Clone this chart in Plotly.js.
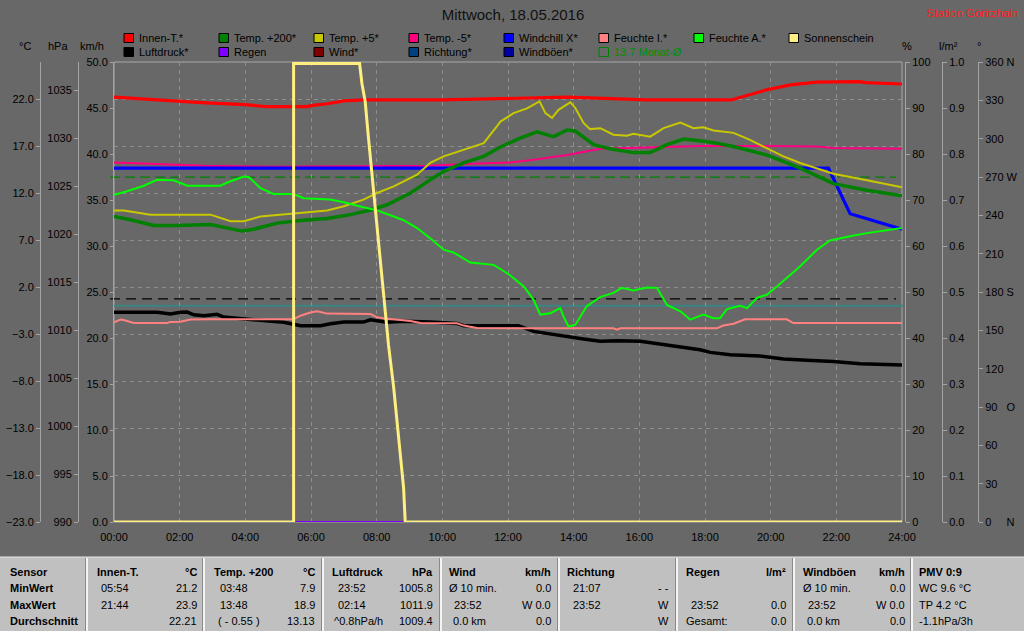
<!DOCTYPE html>
<html><head><meta charset="utf-8">
<script src="https://cdn.plot.ly/plotly-3.0.1.min.js"></script>
<style>html,body{margin:0;padding:0;background:#686868;} #chart{width:1024px;height:631px;}</style>
</head><body><div id="chart"></div>
<script>
// ---------------- DATA ----------------
const hourTicks = [0,2,4,6,8,10,12,14,16,18,20,22,24];
const hourLabels = ["00:00","02:00","04:00","06:00","08:00","10:00","12:00","14:00","16:00","18:00","20:00","22:00","24:00"];

const innenT_h = [0,1.1,1.8,2.3,2.8,3.5,4.0,4.6,5.5,5.9,6.0,6.5,7.0,7.6,10.0,11.1,12.0,13.8,15.6,16.2,18.8,19.3,19.9,20.6,21.4,22.7,22.9,24];
const innenT_v = [22.2,22.0,21.8,21.7,21.6,21.5,21.4,21.2,21.2,21.2,21.3,21.5,21.8,21.9,21.9,22.0,22.0,22.2,22.0,21.9,21.9,22.4,23.0,23.5,23.8,23.85,23.75,23.6];

const temp200_h = [0,0.5,1.21,1.92,2.94,3.45,3.9,4.26,4.97,5.58,6.49,7.2,7.81,8.32,9.03,9.63,10.04,10.65,11.26,11.77,12.37,12.88,13.39,13.8,14.05,14.61,15.11,15.82,16.33,16.84,17.35,17.85,18.36,18.87,19.88,20.9,21.91,22.93,24];
const temp200_v = [9.5,9.15,8.55,8.55,8.65,8.25,7.95,8.15,8.8,9.05,9.3,9.7,10.2,10.75,12.0,13.4,14.3,15.2,15.9,16.9,17.85,18.5,18.0,18.7,18.6,17.15,16.7,16.3,16.3,17.15,17.75,17.55,17.3,16.95,16.05,14.65,13.0,12.3,11.7];

const temp5_h = [0,0.3,1.11,1.92,2.94,3.55,3.95,4.46,5.58,6.49,7.0,7.6,8.01,8.52,9.23,9.63,10.04,10.85,11.26,11.66,11.77,12.17,12.58,12.96,13.14,13.34,13.54,13.69,13.9,14.05,14.3,14.5,14.81,15.21,15.62,15.82,16.03,16.33,16.74,17.25,17.65,17.95,18.26,18.87,19.37,19.88,20.39,20.9,21.41,21.91,22.93,24];
const temp5_v = [10.15,10.15,9.7,9.7,9.7,9.0,9.0,9.5,9.9,10.15,10.6,11.3,12.0,12.7,13.95,15.2,15.9,16.8,17.3,19.1,19.6,20.5,21.0,21.75,20.5,20.0,20.85,21.2,21.65,21.05,19.45,18.8,18.9,18.2,18.1,18.3,18.15,18.0,18.9,19.5,18.9,19.0,18.65,18.4,17.65,16.8,15.9,15.2,14.65,14.05,13.35,12.6];

const tempM5_h = [0,1.21,2.74,4.77,9.63,10.65,12.07,12.78,13.8,14.81,15.82,16.84,17.85,19.88,21.41,21.91,24];
const tempM5_v = [15.25,15.1,14.9,14.8,14.9,15.1,15.25,15.55,16.05,16.7,16.8,16.95,17.0,17.0,16.95,16.8,16.7];

const windchill_h = [0,21.76,22.42,24];
const windchill_v = [14.65,14.65,9.8,8.15];

const feuchteA_h = [0,0.4,0.91,1.31,1.82,2.23,3.24,3.45,3.95,4.1,4.46,4.86,5.47,5.78,6.59,7.0,7.5,8.01,8.52,8.82,9.23,9.63,10.04,10.34,10.85,11.56,11.77,12.07,12.48,12.78,12.98,13.29,13.59,13.69,13.84,14.05,14.4,14.81,15.21,15.47,15.82,16.23,16.54,16.84,17.25,17.55,17.95,18.26,18.46,18.67,19.07,19.28,19.58,19.88,20.19,20.9,21.41,21.81,22.42,22.93,24];
const feuchteA_v = [71.15,71.9,73.1,74.4,74.3,73.1,73.1,73.8,75.1,75.0,72.6,71.3,71.3,70.4,70.1,69.5,68.6,67.75,66.4,65.6,63.9,61.7,59.2,58.6,56.4,55.9,55.0,53.6,51.2,48.3,45.1,45.4,46.5,44.7,42.5,42.9,46.9,48.9,49.8,50.9,50.35,51.0,50.9,47.2,45.8,44.0,45.1,44.3,44.3,46.3,47.0,46.5,48.7,49.4,51.2,55.6,59.2,61.2,62.1,62.8,63.9];

const feuchteI_h = [0,0.2,0.35,0.6,1.62,1.72,2.02,2.33,2.94,4.16,5.47,5.68,5.98,6.19,6.49,7.81,8.01,8.32,8.72,9.03,9.33,10.45,10.65,11.06,12.07,15.21,15.32,15.42,18.36,18.56,18.87,19.07,19.22,20.49,20.69,24];
const feuchteI_v = [43.4,44.0,43.8,43.25,43.25,43.5,43.55,44.0,44.1,44.1,44.1,44.85,45.55,45.8,45.3,45.2,44.5,44.2,44.0,43.7,43.25,43.2,42.7,42.2,42.1,42.1,41.8,42.1,42.1,42.7,43.1,43.6,44.05,44.05,43.25,43.25];

const luftdruck_h = [0,1.31,1.72,2.02,2.23,2.43,2.74,3.14,3.34,4.16,5.17,5.68,6.29,6.59,7.0,7.6,7.81,8.32,8.82,9.63,10.45,10.65,12.32,12.78,13.29,13.8,14.3,14.81,15.32,16.03,16.84,17.35,17.85,18.16,18.77,19.68,20.39,21.1,21.91,22.73,24];
const luftdruck_v = [1011.84,1011.84,1011.66,1011.84,1011.87,1011.59,1011.49,1011.63,1011.35,1011.14,1010.8,1010.45,1010.45,1010.66,1010.83,1010.83,1011.07,1010.8,1010.9,1010.83,1010.69,1010.45,1010.45,1009.86,1009.58,1009.27,1009.06,1008.82,1008.89,1008.82,1008.47,1008.19,1007.95,1007.67,1007.43,1007.29,1006.98,1006.84,1006.73,1006.49,1006.35];

const sun_h = [0,5.47,5.47,7.48,7.55,7.65,7.75,7.83,7.96,8.06,8.16,8.26,8.36,8.52,8.67,8.82,8.87,24];
const sun_v = [0,0,99.7,99.7,95.4,91.4,83.5,77.7,69.0,61.0,54.5,46.5,38.5,29.1,18.3,7.4,0,0];

const zero_h = [0,24];
const wind_v = [0,0];
const boeen_v = [0,0];
const regen_v = [0,0];

const monthAvgT = 13.7;
const pressureRef = 1013.25;
const frostT = 0;

const dirTicks = [0,30,60,90,120,150,180,210,240,270,300,330,360];
const dirLabels = ["0\u00a0\u00a0\u00a0\u00a0\u00a0N","30","60","90\u00a0\u00a0\u00a0O","120","150","180 S","210","240","270 W","300","330","360 N"];

const legendRow1Names = ["Innen-T.*","Temp. +200*","Temp. +5*","Temp. -5*","Windchill X*","Feuchte I.*","Feuchte A.*","Sonnenschein"];
const legendRow2Names = ["Luftdruck*","Regen","Wind*","Richtung*","Windböen*"];

const tableRowLabels = ["Sensor","MinWert","MaxWert","Durchschnitt"];
const tblInnenT = [["Innen-T.","°C"],["05:54","21.2"],["21:44","23.9"],["","22.21"]];
const tblTemp200 = [["Temp. +200","°C"],["03:48","7.9"],["13:48","18.9"],["( - 0.55 )","13.13"]];
const tblLuftdruck = [["Luftdruck","hPa"],["23:52","1005.8"],["02:14","1011.9"],["^0.8hPa/h","1009.4"]];
const tblWind = [["Wind","km/h"],["Ø 10 min.","0.0"],["23:52","W 0.0"],["0.0 km","0.0"]];
const tblRichtung = [["Richtung",""],["21:07","- -"],["23:52","W"],["","W"]];
const tblRegen = [["Regen","l/m²"],["",""],["23:52","0.0"],["Gesamt:","0.0"]];
const tblWindboeen = [["Windböen","km/h"],["Ø 10 min.","0.0"],["23:52","W 0.0"],["0.0 km","0.0"]];
const tblPMV = [["PMV 0:9",""],["WC 9.6 °C",""],["TP 4.2 °C",""],["-1.1hPa/3h",""]];

// ---------------- STYLE / LAYOUT ----------------
const C = {innenT:'#ff0000', temp200:'#008000', temp5:'#c8c800', tempM5:'#ff0080', windchill:'#0000ff',
  feuchteI:'#ff8080', feuchteA:'#00ff00', sun:'#ffee80', luftdruck:'#000000', regen:'#8000ff',
  wind:'#800000', richtung:'#004080', boeen:'#0000a0', monat:'#008000', frost:'#3a8484'};
const legendRow1Colors = [C.innenT,C.temp200,C.temp5,C.tempM5,C.windchill,C.feuchteI,C.feuchteA,C.sun];
const legendRow2Colors = [C.luftdruck,C.regen,C.wind,C.richtung,C.boeen];

const W=1024, H=631, TOP=62, BOT=522;
const PX = X => X/W;
const PY = Y => (BOT - Y)/(BOT - TOP);
const FONT = 'Liberation Sans, Arial, sans-serif';
const tickFont = {family:FONT, size:11, color:'#000'};
const axLine = '#a4a4a4';
const gridCol = '#8e8e8e';

function tr(name, h, v, yaxis, color, width) {
  return {type:'scatter', mode:'lines', name, x:h, y:v, yaxis, line:{color, width}, hoverinfo:'skip'};
}
const traces = [
  tr('Wind*', zero_h, wind_v, 'y', C.wind, 2),
  tr('Windböen*', zero_h, boeen_v, 'y', C.boeen, 2),
  tr('Regen', zero_h, regen_v, 'y2', C.regen, 2),
  tr('Luftdruck*', luftdruck_h, luftdruck_v, 'y3', C.luftdruck, 3.5),
  tr('Temp. -5*', tempM5_h, tempM5_v, 'y4', C.tempM5, 2),
  tr('Windchill X*', windchill_h, windchill_v, 'y4', C.windchill, 3.2),
  tr('Temp. +200*', temp200_h, temp200_v, 'y4', C.temp200, 3.5),
  tr('Temp. +5*', temp5_h, temp5_v, 'y4', C.temp5, 2),
  tr('Innen-T.*', innenT_h, innenT_v, 'y4', C.innenT, 3.2),
  tr('Feuchte I.*', feuchteI_h, feuchteI_v, 'y5', C.feuchteI, 2),
  tr('Feuchte A.*', feuchteA_h, feuchteA_v, 'y5', C.feuchteA, 2),
  tr('Sonnenschein', sun_h, sun_v, 'y5', C.sun, 3),
  {type:'scatter', mode:'lines', name:'Richtung*', x:[], y:[], yaxis:'y6', line:{color:C.richtung}}
];

function yax(extra) {
  return Object.assign({showline:true, linecolor:axLine, linewidth:1, ticks:'outside', ticklen:4,
    tickcolor:axLine, showgrid:false, zeroline:false, tickfont:tickFont, fixedrange:true}, extra);
}

const shapes = [];
const annotations = [];
function ann(text, X, Y, anchor, extra) {
  annotations.push(Object.assign({text, x:PX(X), y:PY(Y), xref:'paper', yref:'paper', xanchor:anchor,
    yanchor:'middle', showarrow:false, borderpad:0, font:{family:FONT, size:11, color:'#000'}}, extra||{}));
}
function rect(x0,y0,x1,y1,fill,lineCol,lw) {
  shapes.push({type:'rect', xref:'paper', yref:'paper', x0:PX(x0), x1:PX(x1), y0:PY(y0), y1:PY(y1),
    fillcolor:fill, line:{color:lineCol||'rgba(0,0,0,0)', width:lw||0}, layer:'below'});
}
function vline(x,y0,y1,col,w) {
  shapes.push({type:'line', xref:'paper', yref:'paper', x0:PX(x), x1:PX(x), y0:PY(y0), y1:PY(y1),
    line:{color:col, width:w}, layer:'above'});
}

// plot frame
rect(114, 62, 902, 522, 'rgba(0,0,0,0)', '#a8a8a8', 1);
// reference lines
shapes.push({type:'line', xref:'paper', yref:'y4', x0:PX(114), x1:PX(903), y0:frostT, y1:frostT, line:{color:C.frost, width:2}, layer:'below'});
shapes.push({type:'line', xref:'paper', yref:'y3', x0:PX(110), x1:PX(896), y0:pressureRef, y1:pressureRef, line:{color:'#000', width:1.3, dash:'10px,6px'}, layer:'below'});
shapes.push({type:'line', xref:'paper', yref:'y4', x0:PX(110), x1:PX(896), y0:monthAvgT, y1:monthAvgT, line:{color:C.monat, width:1.3, dash:'10px,5px'}, layer:'below'});

// unit labels
ann('°C', 25, 46, 'center'); ann('hPa', 58, 46, 'center'); ann('km/h', 92, 46, 'center');
ann('%', 907, 46, 'center'); ann('l/m²', 948, 46, 'center'); ann('°', 979, 46, 'center');
ann('Station Göritzhain', 1019, 13, 'right', {font:{family:FONT, size:11.5, color:'#ff2020'}});

// legend
const legX = [124,219,314,409,504,599,694,789];
const legY = [38, 52];
legendRow1Names.forEach((n,i)=>{ rect(legX[i], legY[0]-4.5, legX[i]+9.5, legY[0]+4.5, legendRow1Colors[i], '#000', 1); ann(n, legX[i]+14, legY[0], 'left'); });
legendRow2Names.forEach((n,i)=>{ rect(legX[i], legY[1]-4.5, legX[i]+9.5, legY[1]+4.5, legendRow2Colors[i], '#000', 1); ann(n, legX[i]+14, legY[1], 'left'); });
rect(legX[5], legY[1]-4.5, legX[5]+9.5, legY[1]+4.5, 'rgba(0,0,0,0)', C.monat, 1);
ann(monthAvgT.toFixed(1) + ' Monat-Ø', legX[5]+14, legY[1], 'left', {font:{family:FONT, size:11, color:'#009000'}});

// bottom table
rect(0, 557, 1024, 632, '#c0c0c0');
shapes.push({type:'line', xref:'paper', yref:'paper', x0:0, x1:1, y0:PY(557), y1:PY(557), line:{color:'#e8e8e8', width:1}, layer:'above'});
const sepX = [87,204,323,441,559,677,794,912];
sepX.forEach(x=>{ vline(x-1.5, 558, 631, '#8a8a8a', 1); vline(x, 558, 631, '#f4f4f4', 2); });
const rowY = [572, 588, 605, 621];
tableRowLabels.forEach((t,r)=>ann('<b>'+t+'</b>', 9, rowY[r], 'left'));
const panels = [tblInnenT, tblTemp200, tblLuftdruck, tblWind, tblRichtung, tblRegen, tblWindboeen, tblPMV];
const panelLeft = [[96,100,100,100],[213,219,219,217],[331,337,337,333],[448,448,453,452],[566,572,572,572],[685,685,690,685],[802,802,807,806],[918,918,918,918]];
const panelRight = [198,316,434,552,670,787,906,1018];
panels.forEach((p,pi)=>{
  p.forEach((row,r)=>{
    const b = r===0;
    if (row[0]) ann(b?'<b>'+row[0]+'</b>':row[0], panelLeft[pi][r], rowY[r], 'left');
    if (row[1]) ann(b?'<b>'+row[1]+'</b>':row[1], panelRight[pi], rowY[r], 'right');
  });
});

const layout = {
  width:W, height:H, autosize:false,
  margin:{l:0, r:0, t:TOP, b:H-BOT, pad:0},
  paper_bgcolor:'#686868', plot_bgcolor:'#686868',
  showlegend:false,
  title:{text:'Mittwoch, 18.05.2016', font:{family:FONT, size:15, color:'#111'}, x:0.501, xanchor:'center', xref:'container', y:1-15/H, yanchor:'middle', yref:'container'},
  xaxis:{domain:[PX(114), PX(902)], range:[0,24], tickmode:'array', tickvals:hourTicks, ticktext:hourLabels,
    showgrid:true, gridcolor:gridCol, griddash:'4px,4px', gridwidth:1, zeroline:false, showline:false,
    ticks:'', tickfont:tickFont, ticklabelstandoff:7, fixedrange:true},
  yaxis: yax({anchor:'x', range:[0,50], tickmode:'linear', tick0:0, dtick:5, tickformat:'.1f', ticklen:3}),
  yaxis2: yax({overlaying:'y', anchor:'free', position:PX(942), side:'right', range:[0,1], tickmode:'linear', tick0:0, dtick:0.1, tickformat:'.1f'}),
  yaxis3: yax({overlaying:'y', anchor:'free', position:PX(78), side:'left', range:[990,1037.92], tickmode:'linear', tick0:990, dtick:5}),
  yaxis4: yax({overlaying:'y', anchor:'free', position:PX(40), side:'left', range:[-23,25.94], tickmode:'linear', tick0:-23, dtick:5, tickformat:'.1f',
    showgrid:true, gridcolor:gridCol, griddash:'4px,4px', gridwidth:1}),
  yaxis5: yax({overlaying:'y', anchor:'free', position:PX(905), side:'right', range:[0,100], tickmode:'linear', tick0:0, dtick:10}),
  yaxis6: yax({overlaying:'y', anchor:'free', position:PX(978), side:'right', range:[0,360], tickmode:'array', tickvals:dirTicks, ticktext:dirLabels}),
  shapes, annotations
};

Plotly.newPlot('chart', traces, layout, {displayModeBar:false, staticPlot:true});
</script></body></html>
